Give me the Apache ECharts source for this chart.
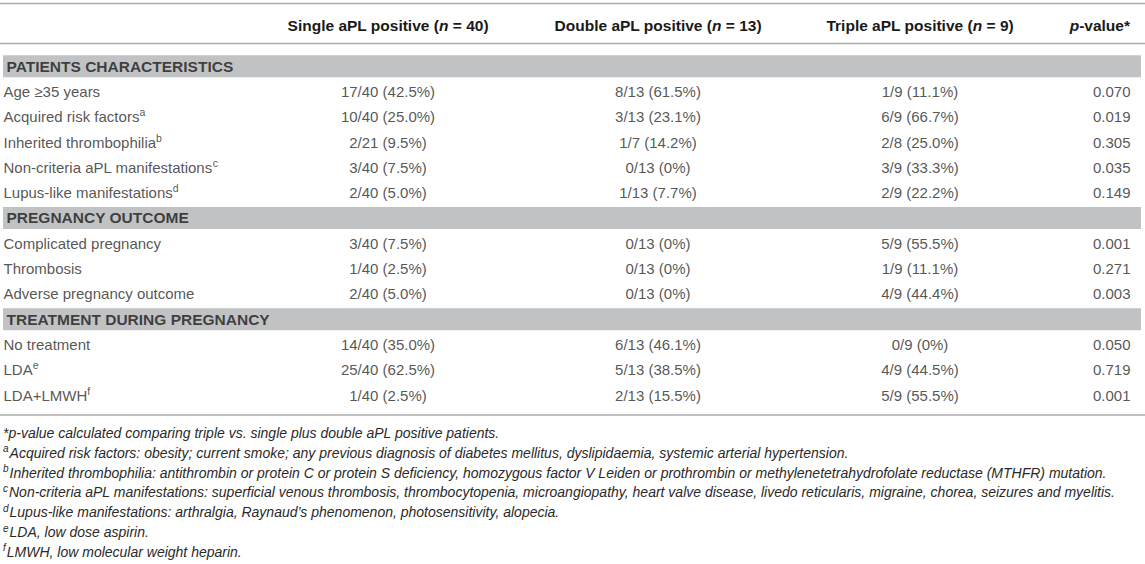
<!DOCTYPE html>
<html><head><meta charset="utf-8">
<script src="https://cdn.jsdelivr.net/npm/echarts@6/dist/echarts.min.js"></script>
<style>html,body{margin:0;padding:0;background:#fff}#c{width:1145px;height:564px}</style>
</head><body><div id="c"></div>
<script>
// ---------- data ----------
const columnHeaders = ['Single aPL positive', 'Double aPL positive', 'Triple aPL positive'];
const groupN = [40, 13, 9];
const pHeader = 'p-value*';
const rowLabels = [
  'PATIENTS CHARACTERISTICS',
  'Age \u226535 years',
  'Acquired risk factors',
  'Inherited thrombophilia',
  'Non-criteria aPL manifestations',
  'Lupus-like manifestations',
  'PREGNANCY OUTCOME',
  'Complicated pregnancy',
  'Thrombosis',
  'Adverse pregnancy outcome',
  'TREATMENT DURING PREGNANCY',
  'No treatment',
  'LDA',
  'LDA+LMWH'
];
const rowSup = ['', '', 'a', 'b', 'c', 'd', '', '', '', '', '', '', 'e', 'f'];
const sectionRows = ['PATIENTS CHARACTERISTICS', 'PREGNANCY OUTCOME', 'TREATMENT DURING PREGNANCY'];
const singleValues = ['', '17/40 (42.5%)', '10/40 (25.0%)', '2/21 (9.5%)', '3/40 (7.5%)', '2/40 (5.0%)', '', '3/40 (7.5%)', '1/40 (2.5%)', '2/40 (5.0%)', '', '14/40 (35.0%)', '25/40 (62.5%)', '1/40 (2.5%)'];
const doubleValues = ['', '8/13 (61.5%)', '3/13 (23.1%)', '1/7 (14.2%)', '0/13 (0%)', '1/13 (7.7%)', '', '0/13 (0%)', '0/13 (0%)', '0/13 (0%)', '', '6/13 (46.1%)', '5/13 (38.5%)', '2/13 (15.5%)'];
const tripleValues = ['', '1/9 (11.1%)', '6/9 (66.7%)', '2/8 (25.0%)', '3/9 (33.3%)', '2/9 (22.2%)', '', '5/9 (55.5%)', '1/9 (11.1%)', '4/9 (44.4%)', '', '0/9 (0%)', '4/9 (44.5%)', '5/9 (55.5%)'];
const pValues = ['', '0.070', '0.019', '0.305', '0.035', '0.149', '', '0.001', '0.271', '0.003', '', '0.050', '0.719', '0.001'];
const footnoteSup = ['', 'a', 'b', 'c', 'd', 'e', 'f'];
const footnotes = [
  '*p-value calculated comparing triple vs. single plus double aPL positive patients.',
  'Acquired risk factors: obesity; current smoke; any previous diagnosis of diabetes mellitus, dyslipidaemia, systemic arterial hypertension.',
  'Inherited thrombophilia: antithrombin or protein C or protein S deficiency, homozygous factor V Leiden or prothrombin or methylenetetrahydrofolate reductase (MTHFR) mutation.',
  'Non-criteria aPL manifestations: superficial venous thrombosis, thrombocytopenia, microangiopathy, heart valve disease, livedo reticularis, migraine, chorea, seizures and myelitis.',
  'Lupus-like manifestations: arthralgia, Raynaud\u2019s phenomenon, photosensitivity, alopecia.',
  'LDA, low dose aspirin.',
  'LMWH, low molecular weight heparin.'
];

// ---------- layout / style ----------
const W = 1145;
const FONT = '"Liberation Sans", Arial, Helvetica, sans-serif';
const TEXT = '#2a2a2a';
const RULE = '#ababab';
const BAND = '#c1c2c4';
const colX = [388, 658, 920];
const pX = 1131;
const labelX = 3;
const rowPitch = 25.3;
const gridTop = 53.5;
const BODY = 15;
const HEAD = 15.5;

const chart = echarts.init(document.getElementById('c'), null, {renderer: 'svg'});

const isSection = l => sectionRows.indexOf(l) >= 0;

function textSeries(anchorX, values, pos) {
  return {
    type: 'scatter',
    symbolSize: 1,
    itemStyle: {color: 'rgba(0,0,0,0)'},
    silent: true,
    z: 5,
    data: values.map((v, i) => ({value: [anchorX, rowLabels[i]], name: v})).filter(d => d.name !== ''),
    label: {
      show: true,
      position: pos,
      distance: 0,
      formatter: p => p.name,
      color: TEXT,
      fontFamily: FONT,
      fontSize: BODY
    }
  };
}

const labelData = rowLabels.map((l, i) => ({
  value: [isSection(l) ? labelX + 3 : labelX, l],
  name: isSection(l) ? '{b|' + l + '}' : ('{n|' + l + '}' + (rowSup[i] ? '{sup|' + rowSup[i] + '}' : ''))
}));

const richBody = {
  n: {fontSize: BODY, fontFamily: FONT, color: TEXT},
  b: {fontSize: HEAD, fontFamily: FONT, color: '#1a1a1a', fontWeight: 'bold'},
  sup: {fontSize: 10.5, fontFamily: FONT, color: TEXT, padding: [0, 0, 9, 0]}
};

const series = [
  // grey section bands (stacked: transparent offset + grey band)
  {
    type: 'bar', stack: 'band', barWidth: 22, silent: true,
    itemStyle: {color: 'rgba(0,0,0,0)'},
    data: rowLabels.map(l => isSection(l) ? 3 : '-')
  },
  {
    type: 'bar', stack: 'band', barWidth: 22, silent: true,
    itemStyle: {color: BAND},
    data: rowLabels.map(l => isSection(l) ? W - 7 : '-')
  },
  {
    type: 'scatter', symbolSize: 1, silent: true, z: 5,
    itemStyle: {color: 'rgba(0,0,0,0)'},
    data: labelData,
    label: {show: true, position: 'right', distance: 0, formatter: p => p.name, rich: richBody}
  },
  textSeries(colX[0], singleValues, 'inside'),
  textSeries(colX[1], doubleValues, 'inside'),
  textSeries(colX[2], tripleValues, 'inside'),
  textSeries(pX, pValues, 'left')
];

const richHead = {
  h: {fontSize: HEAD, fontFamily: FONT, fontWeight: 'bold', fill: '#1a1a1a', color: '#1a1a1a'},
  hi: {fontSize: HEAD, fontFamily: FONT, fontWeight: 'bold', fontStyle: 'italic', fill: '#1a1a1a', color: '#1a1a1a'}
};

const graphics = [];
// rules
[3.5, 43.5, 415].forEach(y => graphics.push({
  type: 'line', silent: true, shape: {x1: 0, y1: y, x2: W, y2: y},
  style: {stroke: RULE, lineWidth: 1.6}
}));
// header
columnHeaders.forEach((h, i) => graphics.push({
  type: 'text', silent: true, x: colX[i], y: 25,
  style: {
    text: '{h|' + h + ' (}{hi|n}{h| = ' + groupN[i] + ')}',
    align: 'center', verticalAlign: 'middle', rich: richHead
  }
}));
graphics.push({
  type: 'text', silent: true, x: pX - 1, y: 25,
  style: {
    text: '{hi|' + pHeader.charAt(0) + '}{h|' + pHeader.slice(1) + '}',
    align: 'right', verticalAlign: 'middle', rich: richHead
  }
});
// footnotes
const richFoot = {
  f: {fontSize: 14, fontFamily: FONT, fontStyle: 'italic', fill: TEXT, color: TEXT},
  s: {fontSize: 10, fontFamily: FONT, fontStyle: 'italic', fill: TEXT, color: TEXT, padding: [0, 1, 8, 0]}
};
footnotes.forEach((f, i) => graphics.push({
  type: 'text', silent: true, x: 3, y: 433 + i * 19.8,
  style: {
    text: (footnoteSup[i] ? '{s|' + footnoteSup[i] + '}' : '') + '{f|' + f + '}',
    align: 'left', verticalAlign: 'middle', rich: richFoot
  }
}));

chart.setOption({
  animation: false,
  backgroundColor: '#ffffff',
  grid: {left: 0, right: 0, top: gridTop, height: rowLabels.length * rowPitch, containLabel: false},
  xAxis: {type: 'value', min: 0, max: W, show: false},
  yAxis: {type: 'category', data: rowLabels, inverse: true, show: false},
  series: series,
  graphic: graphics
});
</script>
</body></html>
